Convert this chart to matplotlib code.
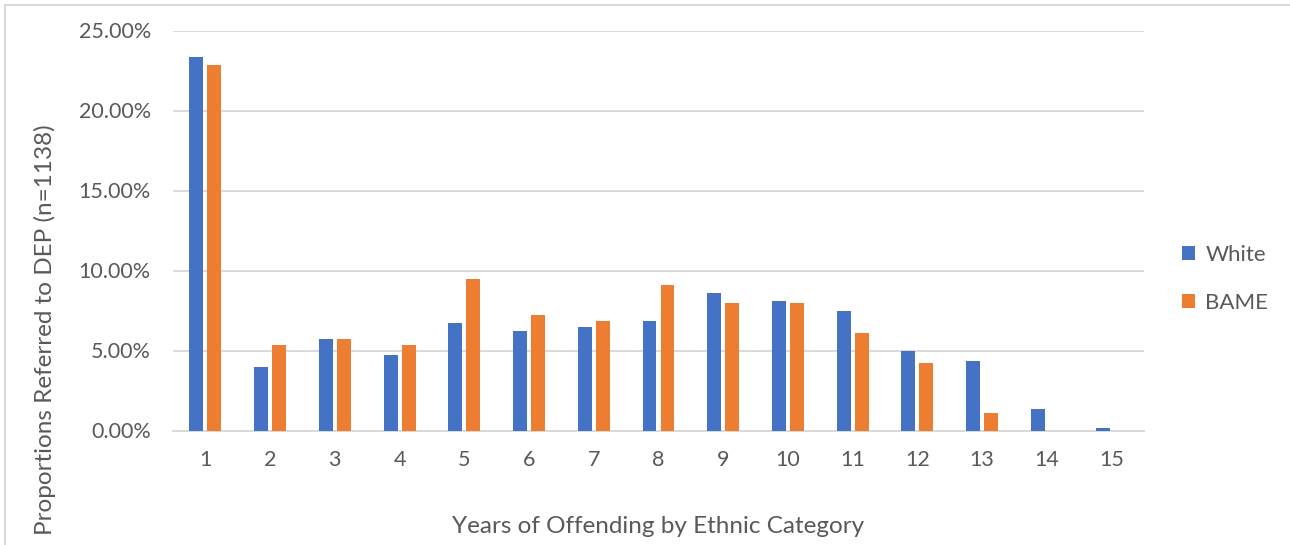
import matplotlib.pyplot as plt
from matplotlib.ticker import PercentFormatter
from matplotlib.patches import Rectangle
import numpy as np

plt.rcParams['font.family'] = ['Lato', 'DejaVu Sans']

years = list(range(1, 16))
white = [23.35, 3.97, 5.72, 4.72, 6.72, 6.22, 6.47, 6.84, 8.59, 8.09, 7.47, 4.97, 4.34, 1.34, 0.15]
bame = [22.84, 5.34, 5.72, 5.34, 9.47, 7.22, 6.84, 9.09, 7.97, 7.97, 6.09, 4.22, 1.09, 0.0, 0.0]

blue = '#4472c4'
orange = '#ed7d31'
grid = '#d9d9d9'
txt = '#595959'

fig = plt.figure(figsize=(12.9, 5.45), dpi=100)
ax = fig.add_axes([173 / 1290, 1 - 430.5 / 545, (1144 - 173) / 1290, 400 / 545])

x = np.array(years)
w = 0.216
off = 0.139
ax.bar(x - off, white, width=w, color=blue, label='White', zorder=3)
ax.bar(x + off, bame, width=w, color=orange, label='BAME', zorder=3)

ax.set_xlim(0.5, 15.5)
ax.set_ylim(0, 25)
ax.set_yticks(np.arange(0, 26, 5))
ax.yaxis.set_major_formatter(PercentFormatter(decimals=2))
ax.set_xticks(years)
ax.grid(axis='y', color=grid, linewidth=1.4, zorder=0)
for s in ['top', 'right', 'left']:
    ax.spines[s].set_visible(False)
ax.spines['bottom'].set_color(grid)
ax.spines['bottom'].set_linewidth(1.4)
ax.tick_params(length=0, labelsize=15.5, colors=txt)
ax.tick_params(axis='y', pad=16)
ax.tick_params(axis='x', pad=14)

ax.set_xlabel('Years of Offending by Ethnic Category', fontsize=17.5, color=txt)
ax.xaxis.set_label_coords(0.5, -(516 - 430.5) / 400)
ax.set_ylabel('Proportions Referred to DEP (n=1138)', fontsize=17.5, color=txt)
ax.yaxis.set_label_coords((56 - 173) / 971, (430.5 - 330) / 400)

ax.legend(loc='center left', bbox_to_anchor=(1009 / 971, (430.5 - 279) / 400), frameon=False,
          fontsize=16, labelcolor=txt, handlelength=0.6, handleheight=0.6, labelspacing=1.25,
          handletextpad=0.45, borderpad=0, borderaxespad=0)

# outer chart frame
fig.patches.append(Rectangle((5 / 1290, -0.05), 1.1, 1 - 5 / 545 + 0.05, transform=fig.transFigure,
                             fill=False, edgecolor=grid, linewidth=1.5))

fig.savefig('out.png', dpi=100)
